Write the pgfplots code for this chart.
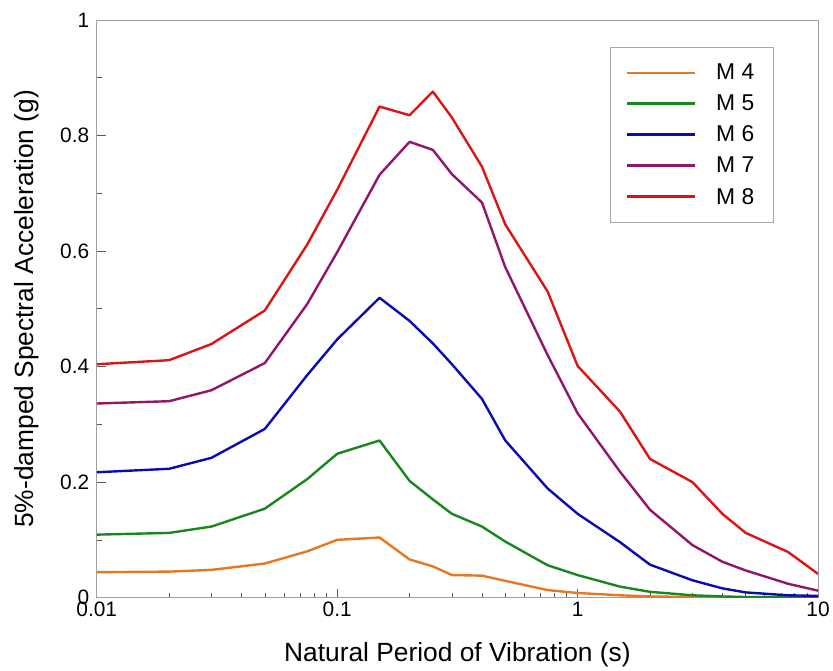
\documentclass[border=0pt]{standalone}
\usepackage{fontspec}
\setmainfont{Liberation Sans}
\usepackage{pgfplots}
\pgfplotsset{compat=1.18}
\definecolor{cM4}{RGB}{228,120,36}
\definecolor{cM5}{RGB}{24,135,30}
\definecolor{cM6}{RGB}{10,10,180}
\definecolor{cM7}{RGB}{145,22,105}
\definecolor{cM8}{RGB}{220,20,20}
\begin{document}
\begin{tikzpicture}
\begin{axis}[
  at={(0,0)}, anchor=south west,
  scale only axis, width=723bp, height=579bp,
  xmode=log, xmin=0.01, xmax=10, ymin=0, ymax=1,
  xtick={0.01,0.1,1,10}, xticklabels={0.01,0.1,1,10},
  ytick={0,0.2,0.4,0.6,0.8,1}, yticklabels={0,0.2,0.4,0.6,0.8,1},
  minor ytick={0.1,0.3,0.5,0.7,0.9},
  tick pos=left, tick align=inside,
  major tick length=9bp, minor tick length=5bp,
  tick style={gray!70!black, line width=0.6bp},
  axis line style={gray!75, line width=0.8bp},
  ticklabel style={font=\fontsize{21}{25}\selectfont},
  /pgf/number format/assume math mode=true,
  xlabel={Natural Period of Vibration (s)},
  ylabel={5\%-damped Spectral Acceleration (g)},
  label style={font=\fontsize{26.5}{30}\selectfont},
  xlabel style={at={(axis description cs:0.5,0)}, anchor=center, yshift=-57bp},
  ylabel style={at={(axis description cs:0,0.5)}, anchor=center, yshift=70bp},
  xticklabel style={yshift=-1bp},
  yticklabel style={xshift=-4bp},
  legend style={at={(rel axis cs:0.711,0.953)}, anchor=north west,
    draw=gray!70, fill=white,
    font=\fontsize{23}{27}\selectfont,
    nodes={font=\fontsize{23}{27}\selectfont, inner sep=3bp},
    inner xsep=16bp, inner ysep=14bp, row sep=7.7bp, column sep=17bp},
  legend cell align=left,
  legend image code/.code={\draw[#1, line width=2.6bp] (0bp,0bp) -- (68bp,0bp);},
  every axis plot/.append style={line width=2.4bp, line join=round},
]
\addplot[cM4] coordinates {(0.01,0.044)(0.02,0.045)(0.03,0.048)(0.05,0.059)(0.075,0.080)(0.1,0.100)(0.15,0.104)(0.2,0.066)(0.25,0.054)(0.3,0.039)(0.4,0.038)(0.5,0.029)(0.75,0.013)(1,0.008)(1.5,0.004)(2,0.002)(3,0.001)(4,0.001)(5,0.0005)(7.5,0.0003)(10,0.0002)};
\addplot[cM5] coordinates {(0.01,0.109)(0.02,0.112)(0.03,0.123)(0.05,0.154)(0.075,0.205)(0.1,0.249)(0.15,0.272)(0.2,0.202)(0.25,0.170)(0.3,0.145)(0.4,0.123)(0.5,0.097)(0.75,0.056)(1,0.039)(1.5,0.019)(2,0.010)(3,0.004)(4,0.002)(5,0.001)(7.5,0.0006)(10,0.0004)};
\addplot[cM6] coordinates {(0.01,0.217)(0.02,0.223)(0.03,0.242)(0.05,0.292)(0.075,0.385)(0.1,0.447)(0.15,0.519)(0.2,0.479)(0.25,0.440)(0.3,0.404)(0.4,0.344)(0.5,0.272)(0.75,0.189)(1,0.145)(1.5,0.096)(2,0.057)(3,0.030)(4,0.016)(5,0.009)(7.5,0.004)(10,0.003)};
\addplot[cM7] coordinates {(0.01,0.336)(0.02,0.340)(0.03,0.359)(0.05,0.406)(0.075,0.508)(0.1,0.598)(0.15,0.732)(0.2,0.789)(0.25,0.775)(0.3,0.733)(0.4,0.684)(0.5,0.572)(0.75,0.420)(1,0.319)(1.5,0.218)(2,0.152)(3,0.091)(4,0.062)(5,0.047)(7.5,0.024)(10,0.012)};
\addplot[cM8] coordinates {(0.01,0.404)(0.02,0.411)(0.03,0.439)(0.05,0.497)(0.075,0.611)(0.1,0.706)(0.15,0.850)(0.2,0.835)(0.25,0.876)(0.3,0.831)(0.4,0.746)(0.5,0.646)(0.75,0.530)(1,0.401)(1.5,0.322)(2,0.240)(3,0.200)(4,0.145)(5,0.112)(7.5,0.079)(10,0.041)};
\legend{M 4,M 5,M 6,M 7,M 8}
\end{axis}
\path[use as bounding box] (-97bp,-72bp) rectangle (736bp,599bp);
\end{tikzpicture}
\end{document}
